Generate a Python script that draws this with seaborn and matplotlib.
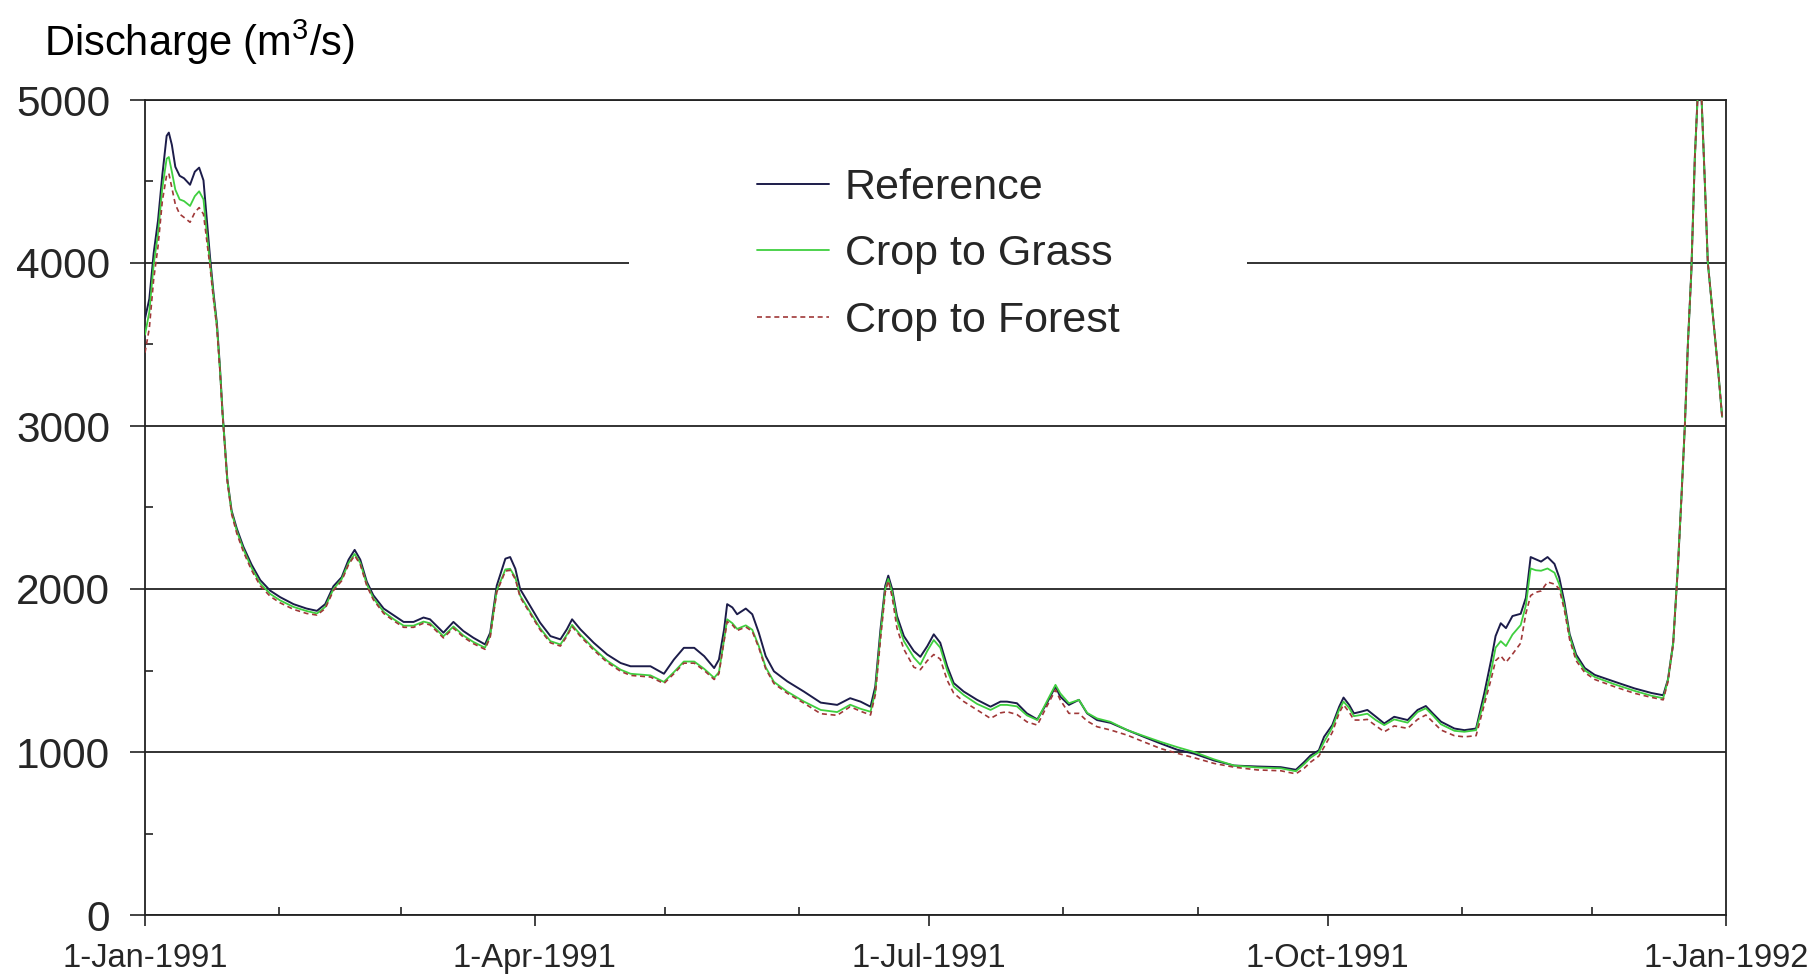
import numpy as np
import pandas as pd
import matplotlib
matplotlib.use("Agg")
import matplotlib.pyplot as plt
import matplotlib.dates as mdates
from matplotlib.patches import Rectangle
from matplotlib import font_manager
import seaborn as sns

# Daily discharge (m3/s), sampled on days counted from 1 Jan 1991
day_offset = [
    0, 1, 2, 3, 4, 5, 5.5, 6.2, 7, 8, 9, 10.4, 11.5, 12.5, 13.5, 14.2, 15, 15.8,
    16.6, 17.3, 17.9, 18.5, 19, 20, 21.2, 22.7, 24.6, 26.6, 28.9, 31.2, 34.3,
    37.3, 39.7, 41.6, 43.5, 45.4, 47, 48.4, 49.7, 51.2, 52.7, 55.1, 57.4, 59.7,
    62, 64.3, 65.8, 68.9, 71.2, 73.5, 75.8, 78.5, 79.7, 81.2, 83.2, 84.3, 85.5,
    86.6, 88.9, 91.2, 93.6, 95.9, 97.4, 98.6, 100.5, 103.6, 106.7, 109.8, 112.1,
    116.7, 119.8, 122.1, 124.4, 126.8, 129.1, 131.4, 132.5, 133.7, 134.4, 135.6,
    136.7, 138.7, 140.2, 141.7, 143.3, 145.2, 148.3, 152.1, 156, 159.8, 162.8,
    165.2, 167.5, 168.6, 169.8, 170.9, 171.6, 172.5, 173.6, 175.2, 177.5, 179,
    180.6, 182.1, 183.6, 185.2, 186.7, 189, 192.1, 195.2, 197.5, 199, 201.3,
    203.6, 206, 208.2, 210.2, 211.3, 213.3, 215.6, 217.5, 219.8, 222.9, 226.8,
    230.6, 234.5, 238.3, 242.2, 246.8, 251.4, 256.8, 262.2, 265.7, 267.6, 269.1,
    271, 272.2, 274.1, 275.7, 276.7, 278, 279.1, 280.7, 282.2, 284.2, 286.1,
    288.4, 291.5, 293.8, 295.7, 297.3, 299.2, 302.3, 304.6, 307.3, 309.2, 310.8,
    311.8, 313, 314.2, 315.7, 317.6, 318.8, 319.9, 321.1, 322.3, 323.8, 325.4,
    326.5, 327.7, 328.9, 330.4, 332.4, 334.7, 339.3, 343.9, 347.8, 350.5, 351.6,
    352.8, 353.9, 354.7, 355.5, 356.2, 357, 357.8, 358.5, 359.3, 360.1, 360.8,
    362, 363.2, 364.1,
]

reference = [
    3660, 3780, 4060, 4260, 4540, 4780, 4800, 4725, 4590, 4535, 4520, 4480, 4560,
    4585, 4507, 4290, 4040, 3820, 3630, 3360, 3085, 2865, 2675, 2480, 2370, 2260,
    2150, 2055, 1990, 1950, 1907, 1880, 1866, 1907, 2017, 2072, 2180, 2240, 2180,
    2045, 1962, 1880, 1839, 1798, 1798, 1825, 1814, 1732, 1798, 1742, 1701, 1660,
    1732, 2020, 2186, 2196, 2124, 2000, 1897, 1794, 1711, 1691, 1753, 1814, 1753,
    1670, 1598, 1546, 1526, 1526, 1480, 1567, 1639, 1639, 1588, 1515, 1567, 1753,
    1907, 1887, 1845, 1880, 1845, 1732, 1588, 1495, 1433, 1371, 1303, 1289, 1330,
    1309, 1278, 1402, 1753, 2020, 2082, 2000, 1835, 1711, 1619, 1584, 1649, 1722,
    1670, 1526, 1423, 1371, 1320, 1278, 1309, 1309, 1299, 1237, 1200, 1299, 1402,
    1340, 1289, 1320, 1237, 1196, 1179, 1134, 1093, 1052, 1014, 990, 948, 917,
    911, 907, 891, 938, 979, 1010, 1093, 1165, 1278, 1334, 1289, 1237, 1247, 1258,
    1216, 1175, 1216, 1196, 1258, 1282, 1237, 1186, 1144, 1134, 1144, 1361, 1567,
    1711, 1790, 1760, 1834, 1848, 1946, 2196, 2182, 2168, 2196, 2154, 2071, 1918,
    1723, 1598, 1515, 1473, 1431, 1390, 1362, 1348, 1445, 1668, 2140, 2557, 3002,
    3503, 3949, 4644, 5050, 5050, 4505, 4004, 3670, 3337, 3058,
]

crop_to_grass = [
    3560, 3700, 3990, 4180, 4460, 4640, 4650, 4560, 4450, 4390, 4380, 4350, 4410,
    4440, 4390, 4200, 4000, 3800, 3610, 3350, 3080, 2860, 2670, 2470, 2355, 2245,
    2130, 2035, 1970, 1930, 1890, 1865, 1850, 1890, 2000, 2060, 2160, 2215, 2160,
    2030, 1945, 1860, 1815, 1775, 1775, 1800, 1790, 1710, 1770, 1715, 1675, 1640,
    1715, 1990, 2120, 2124, 2070, 1960, 1860, 1760, 1680, 1660, 1720, 1780, 1720,
    1635, 1560, 1505, 1480, 1470, 1430, 1490, 1555, 1555, 1510, 1455, 1490, 1690,
    1814, 1790, 1755, 1777, 1750, 1650, 1520, 1430, 1370, 1310, 1258, 1245, 1290,
    1265, 1247, 1370, 1720, 2000, 2062, 1980, 1810, 1680, 1580, 1536, 1620, 1687,
    1640, 1500, 1402, 1350, 1295, 1258, 1289, 1289, 1280, 1225, 1196, 1310, 1412,
    1360, 1299, 1320, 1240, 1206, 1185, 1134, 1098, 1062, 1030, 1000, 955, 917,
    905, 900, 882, 925, 965, 1000, 1062, 1150, 1260, 1309, 1270, 1220, 1227, 1235,
    1195, 1165, 1200, 1180, 1245, 1268, 1225, 1170, 1130, 1124, 1134, 1320, 1500,
    1640, 1680, 1650, 1720, 1779, 1900, 2126, 2115, 2112, 2126, 2100, 2029, 1890,
    1710, 1580, 1501, 1460, 1415, 1375, 1345, 1330, 1440, 1665, 2140, 2557, 3000,
    3500, 3950, 4640, 5050, 5050, 4505, 4004, 3670, 3337, 3058,
]

crop_to_forest = [
    3450, 3600, 3900, 4100, 4380, 4540, 4550, 4460, 4360, 4300, 4280, 4250, 4310,
    4340, 4300, 4150, 3980, 3780, 3600, 3340, 3070, 2850, 2660, 2460, 2340, 2230,
    2115, 2020, 1955, 1915, 1875, 1850, 1840, 1880, 1990, 2050, 2150, 2205, 2150,
    2020, 1935, 1850, 1805, 1765, 1765, 1790, 1780, 1700, 1760, 1705, 1665, 1630,
    1705, 1980, 2110, 2115, 2060, 1950, 1850, 1750, 1670, 1650, 1710, 1770, 1710,
    1625, 1550, 1495, 1470, 1460, 1420, 1480, 1545, 1545, 1500, 1445, 1480, 1680,
    1800, 1780, 1745, 1767, 1740, 1640, 1510, 1420, 1360, 1300, 1235, 1225, 1278,
    1250, 1227, 1350, 1690, 1980, 2051, 1950, 1760, 1630, 1520, 1505, 1560, 1598,
    1570, 1440, 1361, 1310, 1258, 1206, 1240, 1247, 1230, 1185, 1165, 1280, 1381,
    1320, 1237, 1237, 1190, 1155, 1135, 1103, 1062, 1021, 992, 965, 930, 907,
    890, 885, 866, 900, 938, 975, 1030, 1120, 1240, 1289, 1245, 1196, 1196, 1200,
    1160, 1124, 1160, 1145, 1200, 1227, 1185, 1135, 1100, 1093, 1100, 1290, 1450,
    1560, 1590, 1550, 1600, 1668, 1850, 1960, 1980, 1988, 2043, 2030, 2001, 1870,
    1690, 1560, 1487, 1445, 1400, 1360, 1335, 1320, 1430, 1660, 2130, 2550, 3000,
    3500, 3950, 4640, 5050, 5050, 4505, 4004, 3670, 3337, 3058,
]

series_names = ["Reference", "Crop to Grass", "Crop to Forest"]
y_ticks = [0, 1000, 2000, 3000, 4000, 5000]

start = pd.Timestamp("1991-01-01")
end = pd.Timestamp("1992-01-01")
dates = start + pd.to_timedelta(np.array(day_offset) * 24, unit="h")

sns.set_theme(style="white")

def pick_font(name, fallback):
    try:
        font_manager.findfont(name, fallback_to_default=False)
        return name
    except ValueError:
        return fallback

main_font = pick_font("Liberation Sans", "DejaVu Sans")
plt.rcParams["font.family"] = [main_font, "DejaVu Sans"]
plt.rcParams["mathtext.fontset"] = "custom"
plt.rcParams["mathtext.rm"] = main_font
plt.rcParams["mathtext.it"] = main_font

fig = plt.figure(figsize=(18.1, 9.8), dpi=100)
ax = fig.add_axes([145 / 1810, 65 / 980, 1581 / 1810, 815 / 980])
ax.set_axisbelow(True)

styles = [
    dict(color="#1c1c4a", linewidth=1.4),
    dict(color="#3fcf3f", linewidth=1.3),
    dict(color="#a03838", linewidth=1.2, linestyle=(0, (3, 2.2))),
]
for name, values, st in zip(series_names, [reference, crop_to_grass, crop_to_forest], styles):
    sns.lineplot(x=dates, y=values, ax=ax, label=name, zorder=3, **st)

ax.set_xlim(start, end)
ax.set_ylim(0, 5000)
ax.set_yticks(y_ticks)
ax.set_yticks(np.arange(500, 5000, 1000), minor=True)
ax.yaxis.grid(True, which="major", color="#222222", linewidth=1.3)
ax.xaxis.grid(False)

ax.xaxis.set_major_locator(mdates.MonthLocator(bymonth=[1, 4, 7, 10]))
ax.xaxis.set_major_formatter(mdates.DateFormatter("%-d-%b-%Y"))
ax.xaxis.set_minor_locator(mdates.MonthLocator())

for side in ["left", "bottom", "right", "top"]:
    ax.spines[side].set_visible(True)
    ax.spines[side].set_color("#222222")
    ax.spines[side].set_linewidth(1.3)

ax.tick_params(axis="y", which="major", direction="out", length=11, width=1.2,
               color="#222222", labelsize=30.5, pad=14, left=True)
ax.tick_params(axis="y", which="minor", direction="in", length=6, width=1.2,
               color="#222222", left=True)
ax.tick_params(axis="x", which="major", direction="out", length=8, width=1.2,
               color="#222222", labelsize=23.5, pad=12, bottom=True)
ax.tick_params(axis="x", which="minor", direction="in", length=6, width=1.2,
               color="#222222", bottom=True)
ax.set_xlabel("")
ax.set_ylabel("")

# white panel behind the legend entries
ax.add_patch(Rectangle((0.306, 0.70), 0.391, 0.25, transform=ax.transAxes,
                       facecolor="white", edgecolor="none", zorder=1))
leg = ax.legend(loc="upper left", bbox_to_anchor=(0.3874, 0.917), frameon=False,
                fontsize=31, handlelength=1.65, handletextpad=0.38,
                labelspacing=0.62, borderpad=0.0, borderaxespad=0.0)

fig.text(44 / 1810, 1 - 42 / 980, r"Discharge (m$^3$/s)", fontsize=30,
         ha="left", va="center", color="black")

fig.savefig("out.png", dpi=100, facecolor="white")
